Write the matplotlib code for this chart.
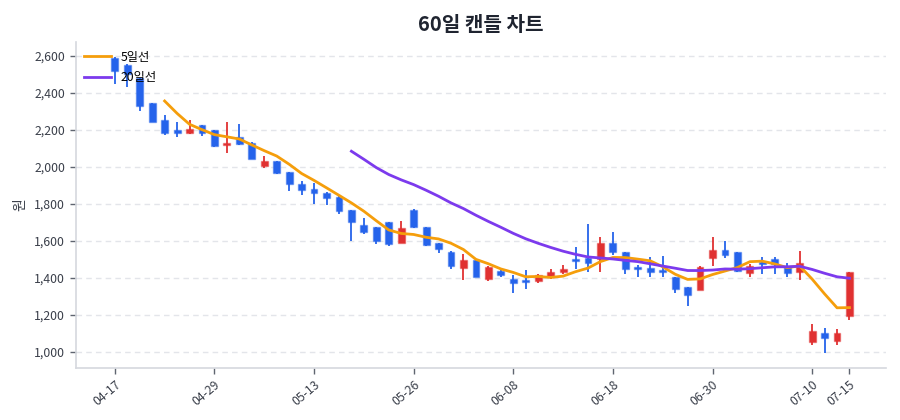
import matplotlib
matplotlib.use("Agg")
import matplotlib.pyplot as plt
import numpy as np
import pandas as pd
from matplotlib.ticker import FuncFormatter

plt.rcParams['font.family'] = ['Noto Sans CJK KR', 'DejaVu Sans']

# ---- data ----
opens = [2590, 2550, 2480, 2345, 2255, 2200, 2185, 2225, 2200, 2118,
         2160, 2130, 2003, 2030, 1970, 1905, 1880, 1860, 1835, 1765,
         1685, 1672, 1700, 1590, 1768, 1672, 1588, 1540, 1455, 1497,
         1396, 1438, 1393, 1390, 1384, 1407, 1430, 1500, 1505, 1500,
         1590, 1537, 1457, 1452, 1442, 1402, 1348, 1335, 1505, 1550,
         1537, 1425, 1485, 1500, 1456, 1430, 1055, 1100, 1060, 1195]
highs = [2595, 2555, 2480, 2345, 2280, 2245, 2255, 2228, 2200, 2245,
         2230, 2135, 2060, 2030, 1970, 1925, 1910, 1862, 1840, 1768,
         1722, 1675, 1700, 1705, 1770, 1675, 1590, 1545, 1528, 1500,
         1465, 1446, 1415, 1442, 1418, 1446, 1470, 1565, 1690, 1618,
         1650, 1540, 1470, 1510, 1520, 1405, 1350, 1465, 1623, 1600,
         1540, 1475, 1515, 1513, 1480, 1546, 1150, 1128, 1122, 1432]
lows = [2450, 2430, 2300, 2240, 2170, 2160, 2175, 2165, 2105, 2075,
        2120, 2043, 1995, 1960, 1870, 1850, 1800, 1793, 1745, 1600,
        1636, 1582, 1570, 1590, 1670, 1572, 1532, 1450, 1390, 1405,
        1385, 1405, 1320, 1340, 1370, 1393, 1420, 1450, 1430, 1432,
        1525, 1420, 1402, 1402, 1402, 1320, 1245, 1333, 1462, 1505,
        1433, 1402, 1420, 1420, 1407, 1390, 1035, 996, 1036, 1173]
closes = [2520, 2500, 2330, 2245, 2185, 2185, 2205, 2185, 2110, 2127,
          2125, 2045, 2030, 1965, 1905, 1875, 1858, 1830, 1762, 1700,
          1650, 1600, 1582, 1667, 1672, 1575, 1555, 1465, 1497, 1407,
          1456, 1415, 1370, 1380, 1415, 1430, 1450, 1490, 1478, 1590,
          1542, 1447, 1448, 1432, 1430, 1340, 1307, 1461, 1550, 1525,
          1435, 1465, 1475, 1475, 1425, 1480, 1110, 1075, 1099, 1430]
tick_positions = [0, 8, 16, 24, 32, 40, 48, 56, 59]
tick_labels = ['04-17', '04-29', '05-13', '05-26', '06-08', '06-18', '06-30', '07-10', '07-15']

UP = '#e03131'
DOWN = '#2563eb'

o = np.array(opens, float)
h = np.array(highs, float)
l = np.array(lows, float)
c = np.array(closes, float)
x = np.arange(len(o))
ma5 = pd.Series(c).rolling(5).mean()
ma20 = pd.Series(c).rolling(20).mean()

fig = plt.figure(figsize=(9, 4.2), dpi=100)
ax = fig.add_axes([0.084, 0.125, 0.9, 0.775])

cols = [UP if cc >= oo else DOWN for oo, cc in zip(o, c)]
ax.vlines(x, l, h, colors=cols, linewidth=1.3, zorder=2)
bottoms = np.minimum(o, c)
heights = np.maximum(np.abs(c - o), 6)
ax.bar(x, heights, bottom=bottoms, width=0.55, color=cols,
       edgecolor=[(cc, 0.45) for cc in cols], linewidth=1.0, zorder=3)

ax.plot(x, ma5, color='#f59e0b', linewidth=2, label='5일선', zorder=4)
ax.plot(x, ma20, color='#7c3aed', linewidth=2, label='20일선', zorder=4)

ax.set_xlim(-3.15, 61.9)
ax.set_ylim(915, 2675)
ax.set_yticks(np.arange(1000, 2601, 200))
ax.yaxis.set_major_formatter(FuncFormatter(lambda v, p: f'{int(v):,}'))
ax.set_xticks(tick_positions)
ax.set_xticklabels(tick_labels, rotation=40, ha='right', rotation_mode='anchor')

ax.grid(axis='y', color='#e3e5ea', linestyle=(0, (4, 3)), linewidth=1)
ax.set_axisbelow(True)
for s in ['top', 'right']:
    ax.spines[s].set_visible(False)
for s in ['left', 'bottom']:
    ax.spines[s].set_color('#d5d8de')
    ax.spines[s].set_linewidth(1.2)
ax.tick_params(axis='both', colors='#5f6570', labelsize=8.8, length=4, width=1)
ax.tick_params(axis='both', labelcolor='#3a3f4a')

ax.set_ylabel('원', fontsize=10, color='#3a3f4a', labelpad=5)
ax.set_title('60일 캔들 차트', fontsize=14.5, fontweight='bold', color='#1f2430', pad=8)

leg = ax.legend(loc='upper left', frameon=False, fontsize=8.8, handlelength=2.2,
                borderaxespad=0.3, labelspacing=0.6, bbox_to_anchor=(0.0, 1.0))

fig.savefig('out.png', dpi=100, facecolor='white')
